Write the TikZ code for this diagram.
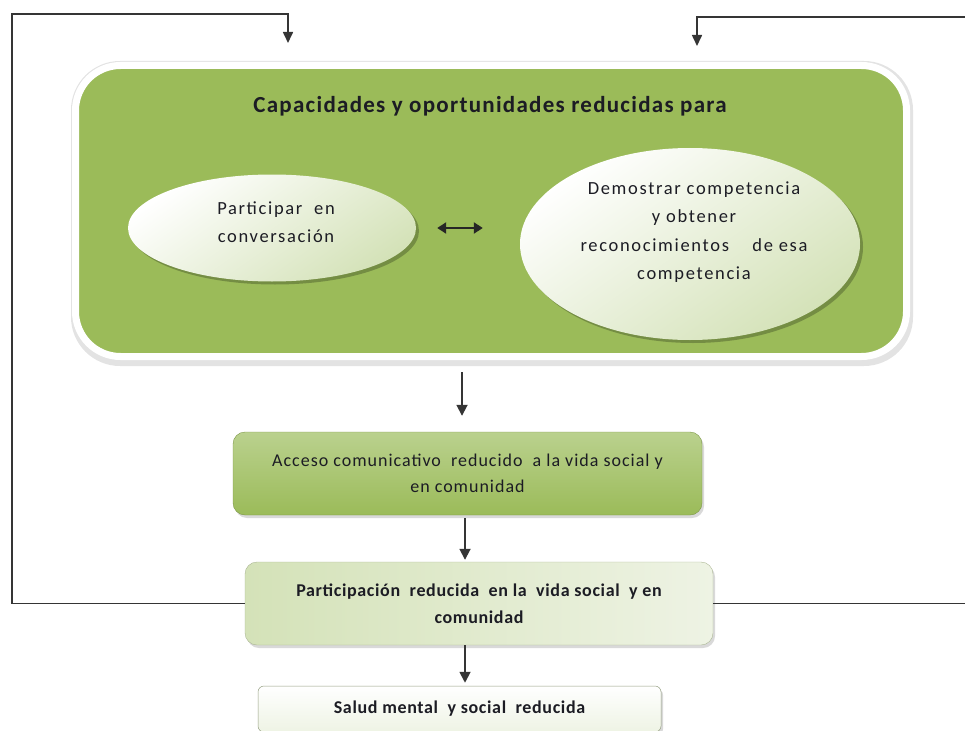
\documentclass[tikz,border=0pt]{standalone}
\usepackage{fontspec}
\setmainfont{Carlito}
\newfontfamily\titlefont[LetterSpace=5.5]{Carlito}
\newfontfamily\bubblefont[LetterSpace=9]{Carlito}
\newfontfamily\accessfont[LetterSpace=5.5]{Carlito}
\newfontfamily\stagefont[LetterSpace=3.6]{Carlito}
\usetikzlibrary{shadows,arrows.meta,shapes.geometric}

\definecolor{olivegreen}{HTML}{9BBB59}
\definecolor{olivelight}{HTML}{D4E2B8}
\definecolor{olivepale}{HTML}{EEF3E4}
\definecolor{olivemid}{HTML}{BAD18E}
\definecolor{inkdark}{HTML}{1C1C24}
\definecolor{linegray}{HTML}{353535}

\tikzset{
  softshadow/.style={drop shadow={shadow xshift=2pt, shadow yshift=-3pt, opacity=0.25, fill=black!60}},
  bubble/.style={ellipse, draw=none, drop shadow={shadow xshift=3pt, shadow yshift=-3pt, opacity=0.35, fill=black!70!olivegreen},
                 top color=white, bottom color=olivelight, shading angle=35},
  bubbletext/.style={align=center, font=\bubblefont\fontsize{18.5}{28.5}\selectfont, text=inkdark},
  stagebox/.style={rectangle, rounded corners=12pt, softshadow, align=center, text=inkdark},
  flow/.style={draw=linegray, line width=1.8pt, -{Triangle[length=11pt,width=11pt]}},
  loopline/.style={draw=linegray, line width=1.6pt, -{Triangle[length=11pt,width=10pt]}},
}

\begin{document}
\begin{tikzpicture}[x=1pt, y={(0pt,-1pt)}]
\useasboundingbox (0,0) rectangle (965,730);

% outer frame with the two capacities, a soft grey rim under its white border
\fill[black!11, rounded corners=49pt] (71,61) rectangle (913,366);
\node[rectangle, rounded corners=45pt, fill=olivegreen, draw=white, line width=7pt,
      minimum width=831pt, minimum height=291pt] (frame) at (491,211) {};
\node[font=\titlefont\bfseries\fontsize{23}{26}\selectfont, text=inkdark] (title) at (490,106)
      {Capacidades y oportunidades reducidas para};

\node[bubble, minimum width=288pt, minimum height=107pt] (talk) at (272,228) {};
\node[bubbletext] (talktext) at (276,222) {Participar\ \ en\\conversación};
\node[bubble, minimum width=340pt, minimum height=192pt] (skill) at (690,244) {};
\node[bubbletext] (skilltext) at (694,232)
      {Demostrar competencia\\y obtener\\reconocimientos\ \ \ \ de esa\\competencia};

\draw[draw=black!85, line width=2.2pt, {Triangle[length=9pt,width=11pt]}-{Triangle[length=9pt,width=11pt]}]
      ([xshift=21pt]talk.east) -- ([xshift=-37pt]skill.west |- talk.east);

% chain of consequences
\node[stagebox, minimum width=469pt, minimum height=83pt, draw=olivegreen!80!black, line width=0.4pt,
      top color=olivemid, bottom color=olivegreen,
      font=\accessfont\fontsize{18}{26}\selectfont] (access) at (467.5,473.5)
      {Acceso comunicativo\ \ reducido\ \ a la vida social y\\en comunidad};
\node[stagebox, minimum width=468pt, minimum height=83pt, draw=olivelight!80!black, line width=0.4pt,
      left color=olivelight, right color=olivepale,
      font=\stagefont\bfseries\fontsize{18}{27}\selectfont] (part) at (479,603.5)
      {Participación\ \ reducida\ \ en la\ \ vida social\ \ y en\\comunidad};
\node[stagebox, rounded corners=6pt, minimum width=403pt, minimum height=46pt, draw=olivelight!70!black, line width=0.5pt,
      top color=white, bottom color=olivepale,
      font=\stagefont\bfseries\fontsize{18}{20}\selectfont] (health) at (459.5,709)
      {Salud mental\ \ y social\ \ reducida};

\draw[flow, shorten <=12pt, shorten >=16pt]
      ([xshift=-5.5pt]access.north |- frame.south) -- ([xshift=-5.5pt]access.north);
\draw[flow, shorten <=3pt, shorten >=2pt]
      ([xshift=-2.5pt]access.south) -- ([xshift=-14pt]part.north);
\draw[flow, shorten >=3pt]
      ([xshift=-14pt]part.south) -- ([xshift=5.5pt]health.north);

% feedback loops back to the top
\coordinate (leftcorner) at (12,14);
\coordinate (lefttarget) at (288,43);
\coordinate (rightcorner) at (968,17);
\coordinate (righttarget) at (697,46);
\draw[loopline] (part.west) -| (leftcorner) -| (lefttarget);
\draw[loopline] (part.east) -| (rightcorner) -| (righttarget);
\end{tikzpicture}
\end{document}
